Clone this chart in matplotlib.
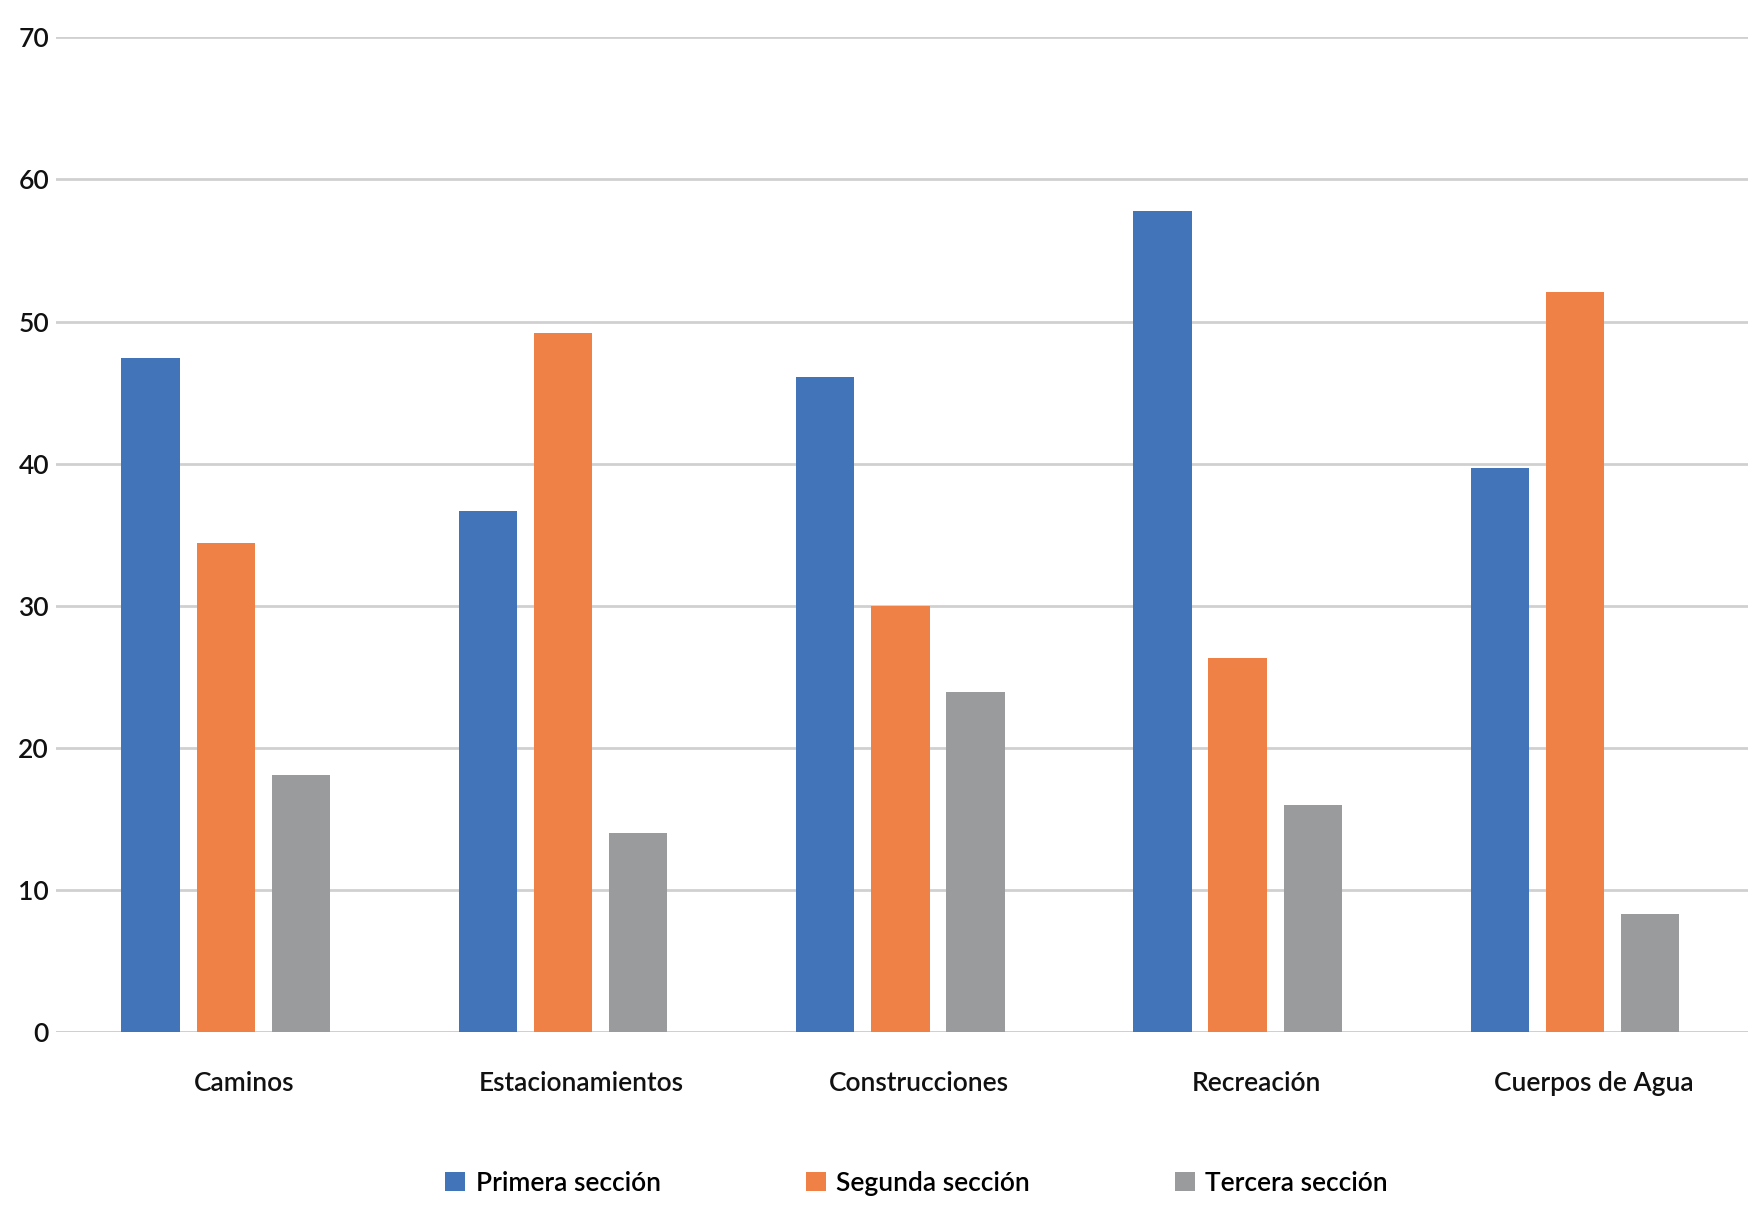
import numpy as np
import matplotlib.pyplot as plt
from matplotlib.patches import Patch

categories = ["Caminos", "Estacionamientos", "Construcciones", "Recreación", "Cuerpos de Agua"]
series_names = ["Primera sección", "Segunda sección", "Tercera sección"]
primera = [47.4, 36.7, 46.1, 57.8, 39.7]
segunda = [34.4, 49.2, 30.0, 26.3, 52.1]
tercera = [18.1, 14.0, 23.9, 16.0, 8.3]
yticks = [0, 10, 20, 30, 40, 50, 60, 70]


def main():
    plt.rcParams['font.family'] = ['Lato', 'DejaVu Sans']
    plt.rcParams['font.weight'] = 'semibold'
    colors = ["#4174b8", "#ef8147", "#999b9c"]
    series = [primera, segunda, tercera]

    fig = plt.figure(figsize=(17.63, 12.05), dpi=100)
    ax = fig.add_axes([0.0318, 0.1436, 0.9597, 0.8254])

    x = np.arange(len(categories))
    width = 0.173
    step = 0.223
    for i, vals in enumerate(series):
        ax.bar(x + (i - 1) * step, vals, width, color=colors[i], zorder=3)

    ax.set_xlim(-0.503, 4.513)
    ax.set_ylim(0, 70)
    ax.set_yticks(yticks)
    ax.set_yticklabels([str(v) for v in yticks], fontsize=19)
    ax.grid(axis='y', color='#d0d0d0', linewidth=2, zorder=0)
    ax.set_xticks(x + 0.055)
    ax.set_xticklabels(categories, fontsize=19)
    ax.tick_params(axis='both', length=0, colors='#111111')
    ax.tick_params(axis='x', pad=28)
    ax.tick_params(axis='y', pad=5)
    for s in ax.spines.values():
        s.set_visible(False)
    ax.axhline(0, color='#d0d0d0', linewidth=2, zorder=2)

    handles = [Patch(facecolor=c) for c in colors]
    fig.legend(handles, series_names, loc='center', bbox_to_anchor=(0.52, 0.018),
               ncol=3, frameon=False, fontsize=19, handlelength=0.75, handleheight=0.75,
               handletextpad=0.4, columnspacing=5.5)

    fig.savefig("out.png", dpi=100)


if __name__ == '__main__':
    main()
